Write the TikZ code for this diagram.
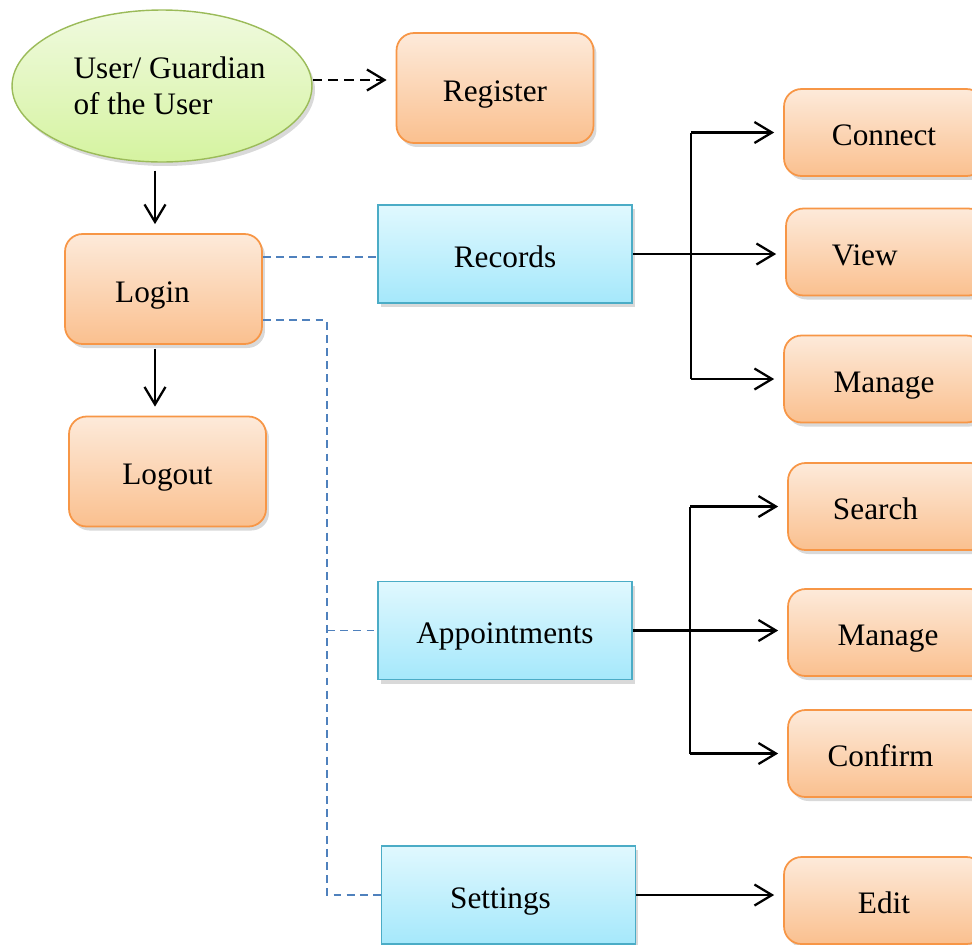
\documentclass[tikz,border=0pt]{standalone}
\usepackage{fontspec}
\setmainfont{Liberation Serif}
\usetikzlibrary{arrows.meta,positioning,shapes.geometric,shadows,calc}
\definecolor{BoxOrange}{HTML}{F79646}
\definecolor{BoxOrangeTop}{HTML}{FDEADA}
\definecolor{BoxOrangeBottom}{HTML}{FAC08F}
\definecolor{BoxBlue}{HTML}{4BACC6}
\definecolor{BoxBlueTop}{HTML}{E0F8FE}
\definecolor{BoxBlueBottom}{HTML}{A5E8FB}
\definecolor{UserGreen}{HTML}{9BBB59}
\definecolor{UserGreenTop}{HTML}{F0FADF}
\definecolor{UserGreenBottom}{HTML}{D5F3A0}
\definecolor{LinkBlue}{HTML}{4F81BD}
\tikzset{
  boxshadow/.style={drop shadow={opacity=0.3,shadow xshift=0.06cm,shadow yshift=-0.08cm}},
  usernode/.style={ellipse,draw=UserGreen,top color=UserGreenTop,bottom color=UserGreenBottom,line width=0.8pt,minimum width=6cm,minimum height=3.04cm,inner xsep=0pt,align=left,font=\fontsize{17.8}{20.5}\selectfont,boxshadow},
  actionnode/.style={draw=BoxOrange,top color=BoxOrangeTop,bottom color=BoxOrangeBottom,line width=1pt,rounded corners=3.5mm,minimum width=3.94cm,minimum height=2.2cm,text height=15pt,text depth=0pt,font=\fontsize{17.8}{21}\selectfont,boxshadow},
  subnode/.style={actionnode,minimum width=4cm,minimum height=1.74cm},
  sectionnode/.style={draw=BoxBlue,top color=BoxBlueTop,bottom color=BoxBlueBottom,line width=1pt,minimum width=5.08cm,minimum height=1.96cm,text height=15pt,text depth=0pt,font=\fontsize{17.8}{21}\selectfont,boxshadow},
  arrow/.style={-{Straight Barb[length=3.5mm,width=4.2mm]},line width=1.3pt,shorten >=0.18cm},
  forkline/.style={line width=1.3pt},
  dasharrow/.style={arrow,dash pattern=on 5.5pt off 3.5pt},
  linkline/.style={draw=LinkBlue,line width=0.9pt,dash pattern=on 4.5pt off 3pt}
}

\begin{document}
\begin{tikzpicture}[x=0.02cm,y=-0.02cm]
\useasboundingbox (0,0) rectangle (972,944);
\clip (0,0) rectangle (972,944);
% left column
\node[usernode] (user) at (162,86) {\hspace*{0.3cm}User/ Guardian\\\hspace*{0.3cm}of the User};
\node[actionnode] (register) at (495,88) {Register};
\node[actionnode] (login) at (163.5,289) {Login\hspace*{0.44cm}};
\node[actionnode] (logout) at (167.5,471.5) {Logout};
% sections
\node[sectionnode] (records) at (505,254) {Records};
\node[sectionnode] (appts) at (505,630.5) {Appointments};
\node[sectionnode] (settings) at (508.5,895) {Settings\hspace*{0.32cm}};
% sub actions
\node[subnode] (connect) at (884,132.5) {Connect};
\node[subnode] (view) at (886,252) {View\hspace*{0.85cm}};
\node[subnode] (manageA) at (884,379) {Manage};
\node[subnode] (search) at (888,506.5) {Search\hspace*{0.5cm}};
\node[subnode] (manageB) at (888,632.5) {Manage};
\node[subnode] (confirm) at (888,753.5) {Confirm\hspace*{0.3cm}};
\node[subnode] (edit) at (884,900.5) {Edit};
\coordinate (trunk) at (327,0);
\coordinate (rfork) at (691,0);
\coordinate (afork) at (690,0);

\draw[dasharrow] (user.east |- 0,80) -- (register.west |- 0,80);
\draw[arrow,shorten <=0.16cm] (user.south -| 155,0) -- (login.north -| 155,0);
\draw[arrow,shorten <=0.08cm] (login.south -| 155,0) -- (logout.north -| 155,0);

\draw[linkline] (login.east |- 0,257) -- (records.west |- 0,257);
\draw[linkline] ($(login.east)+(0,31)$) -| (settings.west -| trunk) -- (settings.west);
\draw[linkline] (appts.west -| trunk) -- (appts.west);

\draw[arrow] (records.east) -- (records.east -| view.west);
\draw[forkline] (connect.west -| rfork) -- (manageA.west -| rfork);
\draw[arrow] (connect.west -| rfork) -- (connect.west);
\draw[arrow] (manageA.west -| rfork) -- (manageA.west);

\draw[arrow] (appts.east) -- (appts.east -| manageB.west);
\draw[forkline] (search.west -| afork) -- (confirm.west -| afork);
\draw[arrow] (search.west -| afork) -- (search.west);
\draw[arrow] (confirm.west -| afork) -- (confirm.west);

\draw[arrow] (settings.east) -- (settings.east -| edit.west);
\end{tikzpicture}
\end{document}
